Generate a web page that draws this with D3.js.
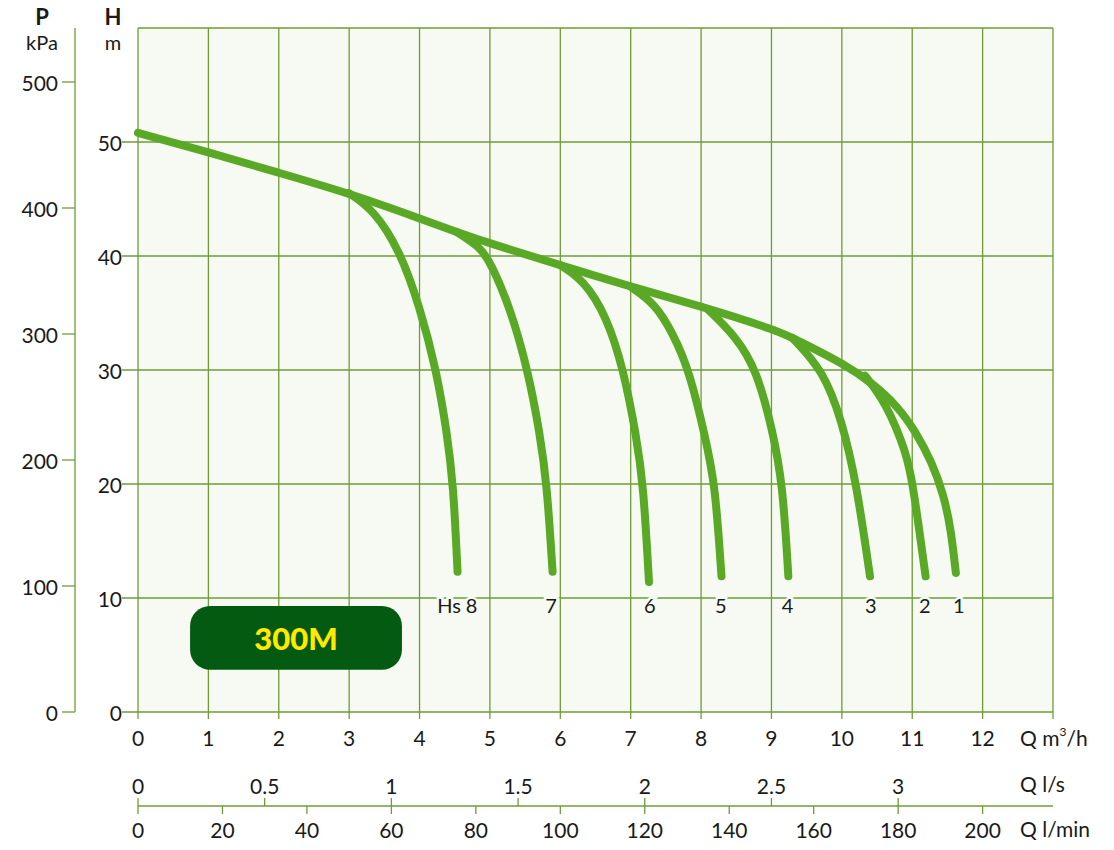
<!DOCTYPE html>
<html>
<head>
<meta charset="utf-8">
<script src="https://cdn.jsdelivr.net/npm/d3@7"></script>
<style>
  body { margin: 0; background: #fff; }
  text { font-family: Lato, "Noto Sans", sans-serif; fill: #1a1a1a; }
</style>
</head>
<body>
<script>
// axis ticks
const qTicks = [0, 1, 2, 3, 4, 5, 6, 7, 8, 9, 10, 11, 12];
const hTicks = [0, 10, 20, 30, 40, 50];
const pTicks = [0, 100, 200, 300, 400, 500];
const lsTicks = [0, 0.5, 1, 1.5, 2, 2.5, 3];
const lminTicks = [0, 20, 40, 60, 80, 100, 120, 140, 160, 180, 200];

// main curve (Q m3/h, H m) - curve 1 runs all the way
const mainQ = [0, 1, 2, 3, 4, 4.53, 5, 6, 7, 8, 9.12, 9.4, 10.07, 10.44, 10.78, 11.05, 11.28, 11.45, 11.55, 11.62];
const mainH = [50.8, 49.1, 47.3, 45.5, 43.3, 42.1, 41.1, 39.2, 37.3, 35.6, 33.4, 32.5, 30.4, 28.8, 26.9, 24.6, 21.9, 19.0, 16.0, 12.2];

// branches leaving the main curve
const b8Q = [3.0, 3.34, 3.72, 4.0, 4.24, 4.39, 4.48, 4.54];
const b8H = [45.5, 44.1, 40.5, 35.6, 30, 24.5, 20, 12.3];
const b7Q = [4.53, 4.86, 5.01, 5.28, 5.54, 5.71, 5.81, 5.89];
const b7H = [42.1, 40.8, 39.4, 35.6, 30, 24.4, 20, 12.3];
const b6Q = [6.0, 6.33, 6.66, 6.9, 7.08, 7.18, 7.26];
const b6H = [39.2, 37.9, 34.7, 30, 24.2, 20, 11.4];
const b5Q = [7.0, 7.35, 7.6, 7.83, 8.06, 8.2, 8.29];
const b5H = [37.3, 35.8, 33.2, 30, 24.1, 20, 11.9];
const b4Q = [8.1, 8.5, 8.79, 9.02, 9.16, 9.24];
const b4H = [35.3, 32.9, 30, 24.6, 20, 11.9];
const b3Q = [9.3, 9.73, 10.0, 10.21, 10.4];
const b3H = [32.8, 30, 25.6, 20, 11.9];
const b2Q = [10.33, 10.63, 10.92, 11.01, 11.19];
const b2H = [29.5, 27.1, 22.7, 20, 11.9];

// curve labels
const curveLabels = ["Hs", "8", "7", "6", "5", "4", "3", "2", "1"];
const labelQ = [4.42, 4.74, 5.87, 7.27, 8.28, 9.23, 10.41, 11.18, 11.66];
const modelName = "300M";

const grid = "#6e9c36";
const curveColor = "#5aa926";
const plotBg = "#f7faf2";

const svg = d3.select("body").append("svg")
    .attr("width", 1114).attr("height", 850);

const x = d3.scaleLinear().domain([0, 13]).range([138, 1053]);
const y = d3.scaleLinear().domain([0, 60]).range([712, 28]);
const p = d3.scaleLinear().domain([0, 500]).range([712, 82]);
const xLs = d3.scaleLinear().domain([0, 1]).range([x(0), x(3.6)]);
const xLmin = d3.scaleLinear().domain([0, 60]).range([x(0), x(3.6)]);

// plot background
svg.append("rect")
    .attr("x", x(0)).attr("y", y(60))
    .attr("width", x(13) - x(0)).attr("height", y(0) - y(60))
    .attr("fill", plotBg);

// grid
const g = svg.append("g").attr("stroke", grid).attr("stroke-width", 1.3);
g.selectAll(".vx").data(qTicks.concat([13])).join("line")
    .attr("x1", d => x(d)).attr("x2", d => x(d))
    .attr("y1", y(60)).attr("y2", y(0) + 7);
g.selectAll(".hy").data(hTicks.concat([60])).join("line")
    .attr("x1", d => d === 60 ? x(0) : x(0) - 16).attr("x2", x(13))
    .attr("y1", d => y(d)).attr("y2", d => y(d));

// P axis
g.append("line").attr("x1", 75).attr("x2", 75).attr("y1", y(60)).attr("y2", y(0));
g.selectAll(".pt").data(pTicks).join("line")
    .attr("x1", 62).attr("x2", 75)
    .attr("y1", d => p(d)).attr("y2", d => p(d));

// flow axes below
g.append("line").attr("x1", x(0)).attr("x2", x(13)).attr("y1", 806).attr("y2", 806);
g.selectAll(".ls").data(lsTicks).join("line")
    .attr("x1", d => xLs(d)).attr("x2", d => xLs(d))
    .attr("y1", 798).attr("y2", 806);
g.selectAll(".lm").data(lminTicks).join("line")
    .attr("x1", d => xLmin(d)).attr("x2", d => xLmin(d))
    .attr("y1", 806).attr("y2", 814);

// tick labels
const fs = "21px";
svg.selectAll(".ht").data(hTicks).join("text")
    .attr("x", 122).attr("y", d => y(d)).attr("text-anchor", "end")
    .attr("dominant-baseline", "central").style("font-size", fs).text(d => d);
svg.selectAll(".pl").data(pTicks).join("text")
    .attr("x", 58).attr("y", d => p(d)).attr("text-anchor", "end")
    .attr("dominant-baseline", "central").style("font-size", fs).text(d => d);
svg.selectAll(".ql").data(qTicks).join("text")
    .attr("x", d => x(d)).attr("y", 737).attr("text-anchor", "middle")
    .attr("dominant-baseline", "central").style("font-size", fs).text(d => d);
svg.selectAll(".lsl").data(lsTicks).join("text")
    .attr("x", d => xLs(d)).attr("y", 785).attr("text-anchor", "middle")
    .attr("dominant-baseline", "central").style("font-size", fs).text(d => d);
svg.selectAll(".lml").data(lminTicks).join("text")
    .attr("x", d => xLmin(d)).attr("y", 829).attr("text-anchor", "middle")
    .attr("dominant-baseline", "central").style("font-size", fs).text(d => d);

// axis titles
svg.append("text").attr("x", 42).attr("y", 16).attr("text-anchor", "middle")
    .attr("dominant-baseline", "central").style("font-size", "22px").style("font-weight", 700).text("P");
svg.append("text").attr("x", 42).attr("y", 42).attr("text-anchor", "middle")
    .attr("dominant-baseline", "central").style("font-size", "20px").text("kPa");
svg.append("text").attr("x", 113).attr("y", 16).attr("text-anchor", "middle")
    .attr("dominant-baseline", "central").style("font-size", "22px").style("font-weight", 700).text("H");
svg.append("text").attr("x", 113).attr("y", 42).attr("text-anchor", "middle")
    .attr("dominant-baseline", "central").style("font-size", "20px").text("m");

const qm = svg.append("text").attr("x", 1020).attr("y", 737)
    .attr("dominant-baseline", "central").style("font-size", fs);
qm.append("tspan").text("Q m");
qm.append("tspan").attr("dy", -6).style("font-size", "12px").text("3");
qm.append("tspan").attr("dy", 6).text("/h");
svg.append("text").attr("x", 1020).attr("y", 783)
    .attr("dominant-baseline", "central").style("font-size", fs).text("Q l/s");
svg.append("text").attr("x", 1020).attr("y", 828)
    .attr("dominant-baseline", "central").style("font-size", fs).text("Q l/min");

// curves
const line = d3.line()
    .x(d => x(d[0])).y(d => y(d[1]))
    .curve(d3.curveBasis);
const curves = [
    [mainQ, mainH], [b8Q, b8H], [b7Q, b7H], [b6Q, b6H],
    [b5Q, b5H], [b4Q, b4H], [b3Q, b3H], [b2Q, b2H]
];
svg.append("g").selectAll("path").data(curves).join("path")
    .attr("d", c => line(c[0].map((q, i) => [q, c[1][i]])))
    .attr("fill", "none")
    .attr("stroke", curveColor)
    .attr("stroke-width", 8)
    .attr("stroke-linecap", "round")
    .attr("stroke-linejoin", "round");

// curve labels with halo
svg.selectAll(".cl").data(curveLabels).join("text")
    .attr("x", (d, i) => x(labelQ[i])).attr("y", y(9.4))
    .attr("text-anchor", "middle").attr("dominant-baseline", "central")
    .style("font-size", "20px")
    .style("stroke", plotBg).style("stroke-width", 5).style("paint-order", "stroke")
    .text(d => d);

// model badge
svg.append("rect")
    .attr("x", x(0.74)).attr("y", y(9.3))
    .attr("width", x(3.75) - x(0.74)).attr("height", y(3.7) - y(9.3))
    .attr("rx", 20).attr("fill", "#055a12");
svg.append("text")
    .attr("x", (x(0.74) + x(3.75)) / 2).attr("y", y(6.5))
    .attr("text-anchor", "middle").attr("dominant-baseline", "central")
    .style("font-size", "31px").style("font-weight", 900)
    .style("fill", "#ffea00").text(modelName);
</script>
</body>
</html>
